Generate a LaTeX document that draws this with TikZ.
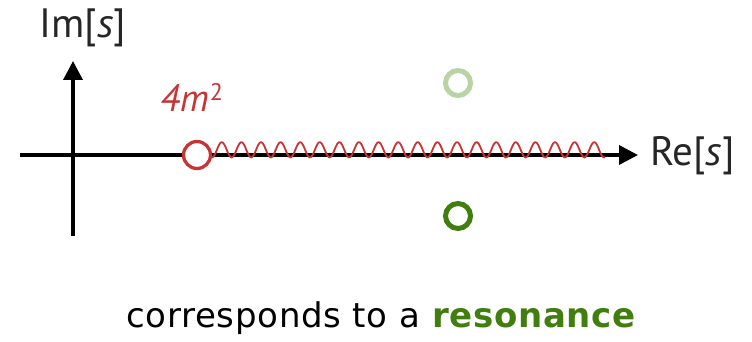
\documentclass[tikz,border=0pt]{standalone}
\usepackage{fontspec}
\setmainfont{DejaVu Sans}
\newfontfamily\labfont{PT Sans}
\usetikzlibrary{arrows.meta}
\definecolor{cutred}{RGB}{200,52,52}
\definecolor{resgreen}{RGB}{66,125,16}
\definecolor{lightgreen}{RGB}{184,211,164}
\tikzset{
  axis/.style={line width=3.6pt,-{Triangle[length=19pt,width=19pt]}},
  lab/.style={font=\labfont\fontsize{41}{44}\selectfont,text=black!85,inner sep=0pt},
  polecirc/.style={circle,line width=5pt,minimum size=25pt,inner sep=0pt},
}
\begin{document}
\begin{tikzpicture}[x=1pt,y=-1pt]
\useasboundingbox (0,0) rectangle (752,342);
\coordinate (vb) at (73,236);
\coordinate (vt) at (73,61);
\coordinate (hl) at (20,155);
\coordinate (hr) at (638,155);
\draw[axis] (vb) -- (vt);
\draw[axis] (hl) -- (hr);
\draw[cutred,line width=1.8pt,domain=0:393,samples=500,smooth]
  plot ({212+\x},{149.8+7.6*cos(\x/19.6*360)});
\node[circle,draw=cutred,fill=white,line width=3.3pt,minimum size=27pt,inner sep=0pt] (th) at (197,155) {};
\node[polecirc,draw=lightgreen] (p1) at (458,83) {};
\node[polecirc,draw=resgreen] (p2) at (458,216) {};
\node[lab,anchor=base] (im) at (83,38) {Im[\textit{s}]};
\node[lab,anchor=base west] (re) at (650,165) {Re[\textit{s}]};
\node[lab,anchor=base west,text=cutred,font=\labfont\fontsize{38}{40}\selectfont] (th4) at (160,112) {\textit{4m}\hspace{1pt}\raisebox{0.3em}{\fontsize{24}{26}\selectfont 2}};
\node[font=\fontsize{34}{38}\selectfont\addfontfeature{LetterSpace=2},anchor=base,inner sep=0pt] (cap) at (381,327) {corresponds to a \textbf{\textcolor{resgreen}{resonance}}};
\end{tikzpicture}
\end{document}
